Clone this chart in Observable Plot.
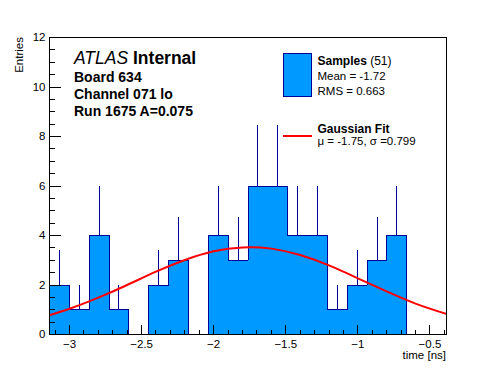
<!DOCTYPE html>
<html><head><meta charset="utf-8">
<script src="https://cdn.jsdelivr.net/npm/d3@7"></script>
<script src="https://cdn.jsdelivr.net/npm/@observablehq/plot@0.6"></script>
<style>
body{margin:0;background:#fff;}
svg{font-family:"Liberation Sans",Arial,Helvetica,sans-serif;}
</style></head><body><div id="chart"></div>
<script>
// Histogram range and contents (20 bins)
const xMin = -3.1387, xMax = -0.385;
const counts = [2,1,4,1,0,2,3,0,4,3,6,6,4,4,1,2,3,4,0,0];
const errors = [1.41,1,2,1,0,1.41,1.73,0,2,1.73,2.45,2.45,2,2,1,1.41,1.73,2,0,0];
// Gaussian fit curve
const fitX = [-3.14,-3.0,-2.8,-2.6,-2.4,-2.2,-2.0,-1.8,-1.6,-1.4,-1.2,-1.0,-0.8,-0.6,-0.385];
const fitY = [0.78,1.04,1.49,2.00,2.54,3.01,3.36,3.52,3.47,3.21,2.79,2.27,1.74,1.25,0.83];
// Axis ticks
const xMajorTicks = [-3,-2.5,-2,-1.5,-1,-0.5];
const xMinorTicks = [-3.1,-2.9,-2.8,-2.7,-2.6,-2.4,-2.3,-2.2,-2.1,-1.9,-1.8,-1.7,-1.6,-1.4,-1.3,-1.2,-1.1,-0.9,-0.8,-0.7,-0.6,-0.4];
const yMajorTicks = [0,2,4,6,8,10,12];
const yMinorTicks = [0.5,1,1.5,2.5,3,3.5,4.5,5,5.5,6.5,7,7.5,8.5,9,9.5,10.5,11,11.5];
// Texts
const atlasLabel = ["ATLAS", "Internal"];
const infoLines = ["Board 634", "Channel 071 lo", "Run 1675 A=0.075"];
const legendSamples = {name: "Samples", n: "(51)", mean: "Mean = -1.72", rms: "RMS = 0.663"};
const legendFit = {name: "Gaussian Fit", params: "\u03bc = -1.75, \u03c3 =0.799"};
const xTitle = "time [ns]", yTitle = "Entries";

const W = 496, H = 372;
const mL = 49, mR = 50, mT = 37, mB = 38;
const plotW = W - mL - mR, plotH = H - mT - mB;

const nBins = counts.length;
const bw = (xMax - xMin) / nBins;
const bins = counts.map((c, i) => ({x1: xMin + i*bw, x2: xMin + (i+1)*bw, xc: xMin + (i+0.5)*bw, count: c, err: errors[i]}));
const outline = counts.map((c, i) => ({x: xMin + i*bw, y: c})).concat([{x: xMax, y: counts[nBins-1]}]);
const fit = fitX.map((x, i) => ({x, y: fitY[i]}));

const fill = "#0099ff", dark = "#000099";
const fmt = d => (d < 0 ? "\u2212" : "") + Math.abs(d);

const chart = Plot.plot({
  width: W, height: H,
  marginLeft: mL, marginRight: mR, marginTop: mT, marginBottom: mB,
  style: {fontFamily: '"Liberation Sans",Arial,Helvetica,sans-serif', fontSize: "11.5px", background: "#fff", color: "#000"},
  x: {domain: [xMin, xMax]},
  y: {domain: [0, 12]},
  marks: [
    Plot.rectY(bins, {x1: "x1", x2: "x2", y: "count", fill: fill, shapeRendering: "crispEdges"}),
    Plot.ruleX(bins.filter(d => d.count > 0), {x: "xc", y1: "count", y2: d => d.count + d.err, stroke: dark, shapeRendering: "crispEdges"}),
    Plot.line(outline, {x: "x", y: "y", curve: "step-after", stroke: dark, strokeWidth: 1, shapeRendering: "crispEdges"}),
    Plot.line(fit, {x: "x", y: "y", curve: "natural", stroke: "#ff0000", strokeWidth: 2, clip: true}),
    Plot.tickX(xMajorTicks, {x: d => d, insetTop: plotH - 9, stroke: "#000", shapeRendering: "crispEdges"}),
    Plot.tickX(xMinorTicks, {x: d => d, insetTop: plotH - 4.5, stroke: "#000", shapeRendering: "crispEdges"}),
    Plot.tickY(yMajorTicks, {y: d => d, insetRight: plotW - 12, stroke: "#000", shapeRendering: "crispEdges"}),
    Plot.tickY(yMinorTicks, {y: d => d, insetRight: plotW - 6, stroke: "#000", shapeRendering: "crispEdges"}),
    Plot.axisX({ticks: xMajorTicks, tickSize: 0, tickPadding: 5, tickFormat: fmt, label: null, fontSize: 11.5}),
    Plot.axisY({ticks: yMajorTicks, tickSize: 0, tickPadding: 4, tickFormat: fmt, label: null, fontSize: 11.5}),
    Plot.frame({stroke: "#000", shapeRendering: "crispEdges"})
  ]
});
document.getElementById("chart").appendChild(chart);

const svg = d3.select(chart);
const g = svg.append("g").attr("fill", "#000").attr("text-anchor", "start");

// ATLAS label
const a = g.append("text").attr("x", 74).attr("y", 64).attr("font-size", 17.5);
a.append("tspan").attr("font-style", "italic").text(atlasLabel[0]);
a.append("tspan").attr("font-weight", "bold").text(" " + atlasLabel[1]);
[81.5, 98.5, 116].forEach((y, i) => {
  g.append("text").attr("x", 74).attr("y", y).attr("font-size", 14).attr("font-weight", "bold").text(infoLines[i]);
});

// Legend
g.append("rect").attr("x", 283.5).attr("y", 53.5).attr("width", 28).attr("height", 43)
  .attr("fill", fill).attr("stroke", dark).attr("stroke-width", 1);
const s = g.append("text").attr("x", 317.5).attr("y", 65).attr("font-size", 12);
s.append("tspan").attr("font-weight", "bold").text(legendSamples.name);
s.append("tspan").text(" " + legendSamples.n);
g.append("text").attr("x", 317.5).attr("y", 79.5).attr("font-size", 11.5).text(legendSamples.mean);
g.append("text").attr("x", 317.5).attr("y", 94.5).attr("font-size", 11.5).text(legendSamples.rms);
g.append("line").attr("x1", 283).attr("x2", 312).attr("y1", 136).attr("y2", 136)
  .attr("stroke", "#ff0000").attr("stroke-width", 2);
g.append("text").attr("x", 317.5).attr("y", 133).attr("font-size", 12).attr("font-weight", "bold").text(legendFit.name);
g.append("text").attr("x", 317.5).attr("y", 144.5).attr("font-size", 11.5).text(legendFit.params);

// Axis titles
g.append("text").attr("x", 446).attr("y", 358.5).attr("text-anchor", "end").attr("font-size", 11.5).text(xTitle);
g.append("text").attr("transform", "translate(23,37) rotate(-90)").attr("text-anchor", "end").attr("font-size", 11.5).text(yTitle);
</script></body></html>
